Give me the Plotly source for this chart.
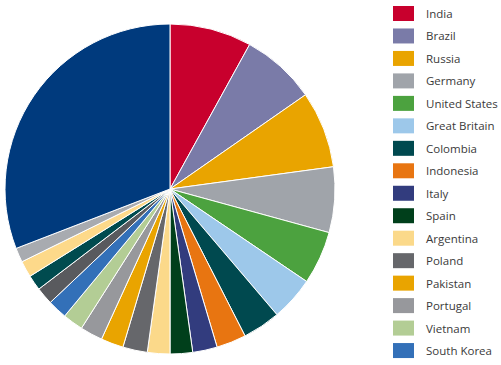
import plotly.graph_objects as go

labels = ["India", "Brazil", "Russia", "Germany", "United States", "Great Britain",
          "Colombia", "Indonesia", "Italy", "Spain", "Argentina", "Poland",
          "Pakistan", "Portugal", "Vietnam", "South Korea",
          "Other 1", "Other 2", "Other 3", "Other 4", "Rest of world"]
values = [8.0, 7.3, 7.5, 6.4, 5.2, 4.3, 3.7, 2.9, 2.4, 2.2, 2.2, 2.4,
          2.2, 2.2, 2.0, 1.9, 1.7, 1.5, 1.6, 1.4, 30.8]
colors = ["#C8002D", "#7A7BA8", "#E9A400", "#A0A4AA", "#4CA23F", "#9DC8EA",
          "#00494F", "#E87511", "#323C7E", "#003F1B", "#FBD98A", "#66676B",
          "#E9A400", "#97989C", "#B3CD95", "#3370B8",
          "#595A5E", "#004B4F", "#FDD98A", "#A8ABB0", "#003A7D"]
legend_labels = labels[:16]
legend_colors = colors[:16]

W, H = 501, 365

fig = go.Figure()
fig.add_trace(go.Pie(
    labels=labels, values=values, sort=False, direction="clockwise", rotation=0,
    marker=dict(colors=colors, line=dict(color="white", width=1)),
    textinfo="none", showlegend=False,
    domain=dict(x=[5 / W, 335 / W], y=[11 / H, 341 / H]),
))

# manual legend (only first 16 entries visible in reference)
top = 13.5
pitch = 22.47
shapes = []
annotations = []
for i, (lab, col) in enumerate(zip(legend_labels, legend_colors)):
    cy = top + i * pitch
    shapes.append(dict(type="rect", xref="paper", yref="paper",
                       x0=393 / W, x1=414 / W,
                       y0=1 - (cy - 7.5) / H, y1=1 - (cy + 7.5) / H,
                       fillcolor=col, line=dict(width=0)))
    annotations.append(dict(text=lab, xref="paper", yref="paper",
                            x=424 / W, y=1 - cy / H, xanchor="left", yanchor="middle",
                            showarrow=False,
                            font=dict(family="Open Sans", size=11.5, color="#3a3a3a")))

fig.update_layout(
    width=W, height=H, margin=dict(l=0, r=0, t=0, b=0),
    paper_bgcolor="white", plot_bgcolor="white",
    shapes=shapes, annotations=annotations,
)
fig.write_html("out.html")
